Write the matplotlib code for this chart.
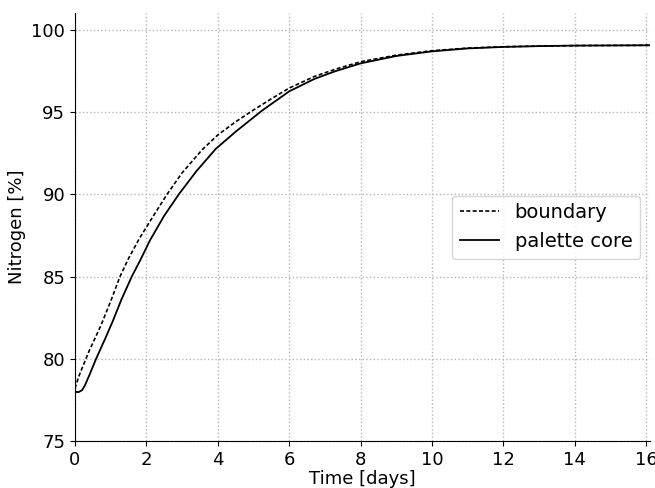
import numpy as np
import matplotlib.pyplot as plt

# tiempo en dias y nitrogeno en %
t_b = [0, 0.1, 0.23, 0.4, 0.72, 1.0, 1.26, 1.5, 1.8, 2.2, 2.58, 3.0, 3.56, 4.0, 4.5, 4.95,
       5.5, 6.0, 6.7, 7.3, 8.0, 9.0, 10.0, 11.0, 12.0, 13.0, 14.0, 16.1]
boundary = [78.2, 78.9, 79.6, 80.5, 82.0, 83.5, 85.0, 86.1, 87.3, 88.7, 90.0, 91.3, 92.7, 93.6,
            94.4, 95.05, 95.8, 96.45, 97.15, 97.6, 98.05, 98.45, 98.72, 98.88, 98.96, 99.0, 99.03, 99.05]

t_c = [0, 0.1, 0.2, 0.28, 0.42, 0.59, 0.84, 1.06, 1.3, 1.59, 1.83, 2.1, 2.5, 2.91, 3.4, 3.94,
       4.5, 5.25, 6.0, 6.7, 7.3, 8.0, 9.0, 10.0, 11.0, 12.0, 13.0, 14.0, 16.1]
core = [78.0, 77.98, 78.1, 78.4, 79.1, 80.0, 81.2, 82.3, 83.6, 85.0, 86.0, 87.2, 88.7, 90.0,
        91.4, 92.75, 93.8, 95.1, 96.25, 97.0, 97.48, 97.95, 98.4, 98.68, 98.86, 98.95, 99.0, 99.03, 99.05]

fig = plt.figure(figsize=(6.55, 4.88), dpi=100)
ax = fig.add_axes([0.1145, 0.096, 0.8775, 0.877])

ax.plot(t_b, boundary, color="k", ls="--", dashes=(2.4, 1.4), lw=1.2, label="boundary")
ax.plot(t_c, core, color="k", ls="-", lw=1.3, label="palette core")

ax.set_xlim(0, 16.1)
ax.set_ylim(75, 101)
ax.set_xticks(np.arange(0, 17, 2))
ax.set_yticks(np.arange(75, 101, 5))
ax.tick_params(labelsize=13)
ax.set_xlabel("Time [days]", fontsize=13, labelpad=1)
ax.set_ylabel("Nitrogen [%]", fontsize=13)
ax.grid(True, linestyle=":", color="#b5b5b5", lw=1)
ax.spines["top"].set_visible(False)
ax.spines["right"].set_visible(False)
ax.legend(loc="center right", fontsize=14)

plt.savefig("out.png", dpi=100)
